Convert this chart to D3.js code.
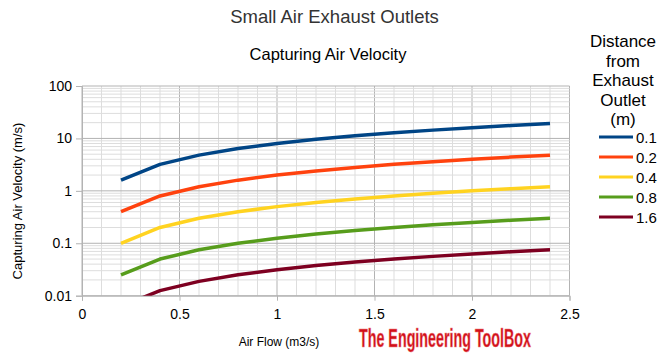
<!DOCTYPE html>
<html><head><meta charset="utf-8">
<script src="https://cdn.jsdelivr.net/npm/d3@7"></script>
<style>body{margin:0;background:#fff}svg{display:block}text{font-family:"Liberation Sans",Arial,sans-serif}</style>
</head><body>
<svg id="c" width="665" height="357"></svg>
<script>
const airFlow = [0.2,0.4,0.6,0.8,1.0,1.2,1.4,1.6,1.8,2.0,2.2,2.4];
const dist01 = [1.6,3.2,4.8,6.4,8.0,9.6,11.2,12.8,14.4,16.0,17.6,19.2];
const dist02 = [0.4,0.8,1.2,1.6,2.0,2.4,2.8,3.2,3.6,4.0,4.4,4.8];
const dist04 = [0.1,0.2,0.3,0.4,0.5,0.6,0.7,0.8,0.9,1.0,1.1,1.2];
const dist08 = [0.025,0.05,0.075,0.1,0.125,0.15,0.175,0.2,0.225,0.25,0.275,0.3];
const dist16 = [0.00625,0.0125,0.01875,0.025,0.03125,0.0375,0.04375,0.05,0.05625,0.0625,0.06875,0.075];
const seriesNames = ["0.1","0.2","0.4","0.8","1.6"];
const seriesColors = ["#004586","#ff420e","#ffd320","#579d1c","#7e0021"];
const xTicks = [0,0.5,1,1.5,2,2.5];
const yTicks = [0.01,0.1,1,10,100];
const yTickLabels = ["0.01","0.1","1","10","100"];
const legendTitle = ["Distance","from","Exhaust","Outlet","(m)"];

const series = [dist01,dist02,dist04,dist08,dist16];
const svg = d3.select("#c");
const L=82,R=569.5,T=86,B=295.7;
const x = d3.scaleLinear().domain([0,2.5]).range([L,R]);
const y = d3.scaleLog().domain([0.01,100]).range([B,T]);

// minor grid
const g = svg.append("g");
d3.range(0,2.5001,0.1).forEach(v=>{
  g.append("line").attr("x1",x(v)).attr("x2",x(v)).attr("y1",T).attr("y2",B)
   .attr("stroke",Math.abs(v*2-Math.round(v*2))<1e-6?"#b3b3b3":"#dddddd").attr("stroke-width",1);
});
[0.01,0.1,1,10].forEach(d=>{
  for(let k=2;k<=9;k++){
    g.append("line").attr("x1",L).attr("x2",R).attr("y1",y(d*k)).attr("y2",y(d*k))
     .attr("stroke","#dddddd").attr("stroke-width",1);
  }
});
yTicks.forEach(v=>{
  g.append("line").attr("x1",L).attr("x2",R).attr("y1",y(v)).attr("y2",y(v))
   .attr("stroke","#b3b3b3").attr("stroke-width",1);
});

// axes
const yAxis = d3.axisLeft(y).tickValues(yTicks).tickFormat((d,i)=>yTickLabels[i]).tickSize(6).tickPadding(4);
const ya = svg.append("g").attr("transform",`translate(${L},0)`).call(yAxis);
const xAxis = d3.axisBottom(x).tickValues(xTicks).tickFormat(d3.format("")).tickSize(5).tickPadding(8);
const xa = svg.append("g").attr("transform",`translate(0,${B})`).call(xAxis);
[ya,xa].forEach(a=>{
  a.select(".domain").attr("stroke","#b3b3b3");
  a.selectAll(".tick line").attr("stroke","#b3b3b3");
  a.selectAll("text").attr("font-size",14).attr("fill","#000").attr("font-family","Liberation Sans, Arial, sans-serif");
});

// lines
svg.append("clipPath").attr("id","clip").append("rect").attr("x",L).attr("y",T).attr("width",R-L).attr("height",B-T);
const line = d3.line().x((d,i)=>x(airFlow[i])).y(d=>y(d));
series.forEach((s,i)=>{
  svg.append("path").datum(s).attr("d",line).attr("clip-path","url(#clip)")
    .attr("fill","none").attr("stroke",seriesColors[i]).attr("stroke-width",3.5).attr("stroke-linejoin","round");
});

// titles
svg.append("text").attr("x",334.5).attr("y",23).attr("text-anchor","middle").attr("font-size",18.5).attr("fill","#333").text("Small Air Exhaust Outlets");
svg.append("text").attr("x",328).attr("y",60).attr("text-anchor","middle").attr("font-size",16.5).attr("fill","#000").text("Capturing Air Velocity");
svg.append("text").attr("transform","translate(22,201) rotate(-90)").attr("text-anchor","middle").attr("font-size",13).text("Capturing Air Velocity (m/s)");
svg.append("text").attr("x",279).attr("y",346).attr("text-anchor","middle").attr("font-size",12).text("Air Flow (m3/s)");

// watermark
const wm = svg.append("text").attr("font-size",25).attr("font-weight","bold")
  .attr("font-family","Liberation Sans Narrow, Arial Narrow, sans-serif")
  .attr("fill","#d0101a").attr("stroke","#f08080").attr("stroke-width",0.5).text("The Engineering ToolBox");
const wmW = wm.node().getComputedTextLength();
wm.attr("transform",`translate(359,347) scale(${172/wmW},1)`);

// legend
legendTitle.forEach((t,i)=>{
  svg.append("text").attr("x",623).attr("y",47+i*19.5).attr("text-anchor","middle").attr("font-size",17).text(t);
});
seriesNames.forEach((n,i)=>{
  const yy = 137+i*20;
  svg.append("line").attr("x1",599).attr("x2",633).attr("y1",yy).attr("y2",yy).attr("stroke",seriesColors[i]).attr("stroke-width",3);
  svg.append("text").attr("x",636).attr("y",yy+5.5).attr("font-size",15).text(n);
});
</script>
</body></html>
